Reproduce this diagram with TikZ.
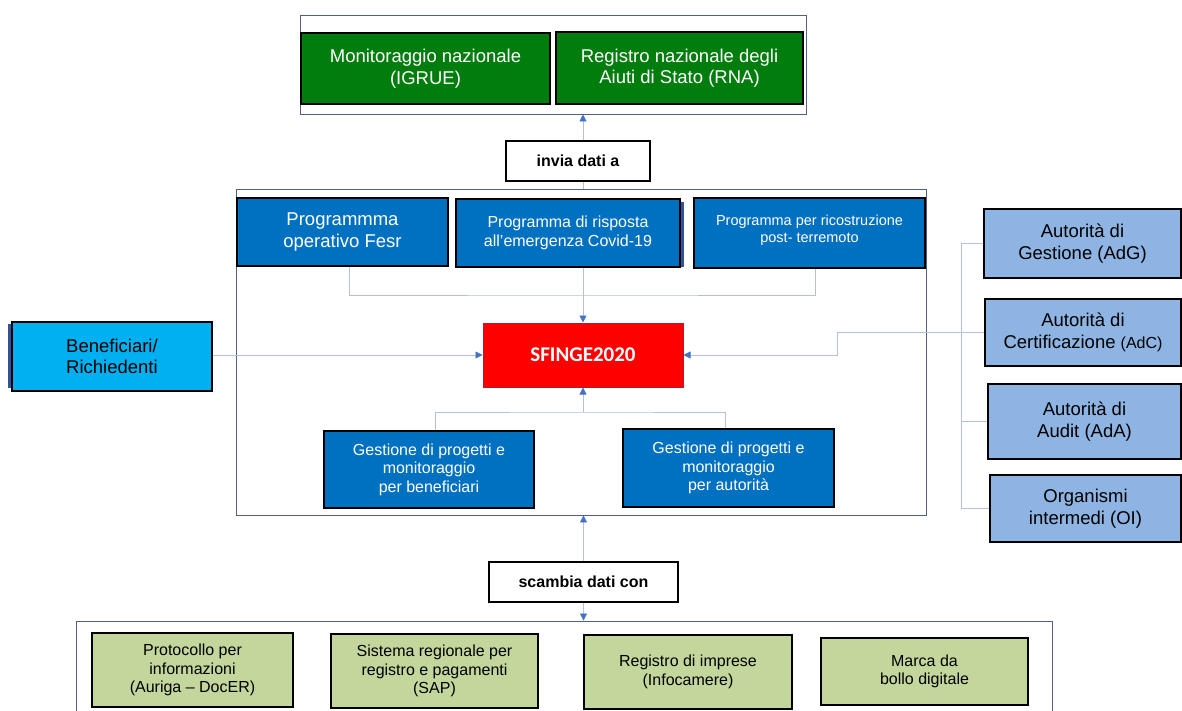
\documentclass[tikz,border=0pt]{standalone}
\usepackage{fontspec}
\setmainfont{Liberation Sans}
\newfontfamily\calibfont{Carlito}
\usetikzlibrary{arrows.meta,calc}
\definecolor{framec}{RGB}{80,96,130}
\definecolor{connc}{RGB}{178,192,222}
\definecolor{arrowc}{RGB}{68,114,196}
\definecolor{gtop}{RGB}{0,125,12}
\definecolor{bluec}{RGB}{0,112,192}
\definecolor{shadowc}{RGB}{47,85,151}
\definecolor{lblue}{RGB}{141,180,226}
\definecolor{cyanc}{RGB}{0,176,240}
\definecolor{lgreen}{RGB}{195,214,155}
\definecolor{redc}{RGB}{255,0,0}
\definecolor{redb}{RGB}{170,30,40}
\begin{document}
\begin{tikzpicture}[x=1pt,y=-1pt,
  wh/.style 2 args={minimum width=#1pt,minimum height=#2pt},
  frame/.style={draw=framec,line width=0.9pt,inner sep=0pt},
  bx/.style={draw=black,line width=1.8pt,inner sep=2pt,align=center},
  big/.style={font=\fontsize{18.5}{21.5}\selectfont},
  mid/.style={font=\fontsize{16}{18.5}\selectfont},
  small/.style={font=\fontsize{14.5}{17}\selectfont},
  greenbox/.style={bx,fill=gtop,text=white,big},
  bluebox/.style={bx,fill=bluec,text=white},
  authbox/.style={bx,fill=lblue,text=black,big},
  extbox/.style={bx,fill=lgreen,text=black,mid},
  lbl/.style={draw=black,line width=1.5pt,fill=white,inner sep=2pt,font=\bfseries\fontsize{16}{19}\selectfont},
  conn/.style={draw=connc,line width=0.8pt},
  arr/.style={conn,-{Triangle[length=7pt,width=7pt,color=arrowc]}}]
\clip (0,0) rectangle (1182,711);
\fill[white] (0,0) rectangle (1182,711);

% frames
\node[frame,wh={506}{99}] (topframe) at (553,64.5) {};
\node[frame,wh={690}{326}] (midframe) at (581,352) {};
\node[frame,wh={976}{119}] (botframe) at (564,680.5) {};

% top boxes
\node[greenbox,wh={249}{71}] (igrue) at (425.5,68.5) {Monitoraggio nazionale\\(IGRUE)};
\node[greenbox,wh={247}{72}] (rna) at (679.5,68) {Registro nazionale degli\\Aiuti di Stato (RNA)};

\node[lbl,wh={144}{40}] (invia) at (578,161) {invia dati a};

% programmes
\fill[shadowc] (680,202) rectangle (684,267);
\node[bluebox,big,wh={211}{68}] (fesr) at (342.5,232) {Programmma\\operativo Fesr};
\node[bluebox,mid,wh={224}{68}] (covid) at (568,233) {Programma di risposta\\all’emergenza Covid-19};
\node[bluebox,small,wh={231}{70}] (terremoto) at (809.5,233) {Programma per ricostruzione\\post- terremoto\\[-9pt]~};

\node[draw=redb,line width=1pt,fill=redc,text=white,wh={200}{64},font=\calibfont\bfseries\fontsize{21}{24}\selectfont] (sfinge) at (583,355) {SFINGE2020};

\node[bluebox,mid,wh={210}{77}] (gben) at (429,469.5) {Gestione di progetti e\\monitoraggio\\per beneficiari};
\node[bluebox,mid,wh={211}{78}] (gaut) at (728.5,468) {Gestione di progetti e\\monitoraggio\\per autorità};

% beneficiari
\fill[shadowc] (8,324) rectangle (12,388);
\node[bx,fill=cyanc,big,wh={200}{69}] (benef) at (112,356.5) {Beneficiari/\\Richiedenti};

% authorities
\node[authbox,wh={197}{69}] (adg) at (1082.5,243.5) {Autorità di\\Gestione (AdG)};
\node[authbox,wh={196}{67}] (adc) at (1083,332.5) {Autorità di\\Certificazione {\fontsize{16}{21.5}\selectfont(AdC)}};
\node[authbox,wh={193}{75}] (ada) at (1084.5,421.5) {Autorità di\\Audit (AdA)};
\node[authbox,wh={191}{67}] (oi) at (1085.5,508.5) {Organismi\\intermedi (OI)};

\node[lbl,wh={189}{40}] (scambia) at (583.5,582) {scambia dati con};

% external systems
\node[extbox,wh={201}{74}] (proto) at (192.5,670) {Protocollo per\\informazioni\\(Auriga – DocER)};
\node[extbox,wh={207}{74}] (sap) at (434.5,671) {Sistema regionale per\\registro e pagamenti\\(SAP)};
\node[extbox,wh={208}{74}] (infoc) at (688,672) {Registro di imprese\\(Infocamere)};
\node[extbox,wh={207}{67}] (bollo) at (924.5,671.5) {Marca da\\bollo digitale};

% connectors
\coordinate (pj) at (0,295);
\coordinate (gj) at (0,412);
\coordinate (rb) at (961,0);
\coordinate (rj) at (837,0);

\draw[conn] (sfinge.north |- midframe.north) -- (sfinge.north |- invia.south);
\draw[arr] (sfinge.north |- invia.north) -- (sfinge.north |- topframe.south);

\draw[conn] ($(fesr.south)+(7,0)$) |- (pj -| sfinge.north) -| ($(terremoto.south)+(5.5,0)$);
\draw[arr] (sfinge.north |- covid.south) -- (sfinge.north);

\draw[conn] ($(gben.north)+(6,0)$) |- (gj -| sfinge.south) -| ($(gaut.north)+(-3.5,0)$);
\draw[arr] (gj -| sfinge.south) -- (sfinge.south);

\draw[arr] (benef.east |- sfinge.west) -- (sfinge.west);

\draw[conn] (rb |- adg.west) -- (rb |- oi.west);
\draw[conn] (rb |- adg.west) -- (adg.west);
\draw[conn] (rb |- adc.west) -- (adc.west);
\draw[conn] (rb |- ada.west) -- (ada.west);
\draw[conn] (rb |- oi.west) -- (oi.west);
\draw[arr] (adc.west) -- (rj |- adc.west) |- (sfinge.east);

\draw[arr] (scambia.north) -- (scambia.north |- midframe.south);
\draw[arr] (scambia.south) -- (scambia.south |- botframe.north);
\end{tikzpicture}
\end{document}
